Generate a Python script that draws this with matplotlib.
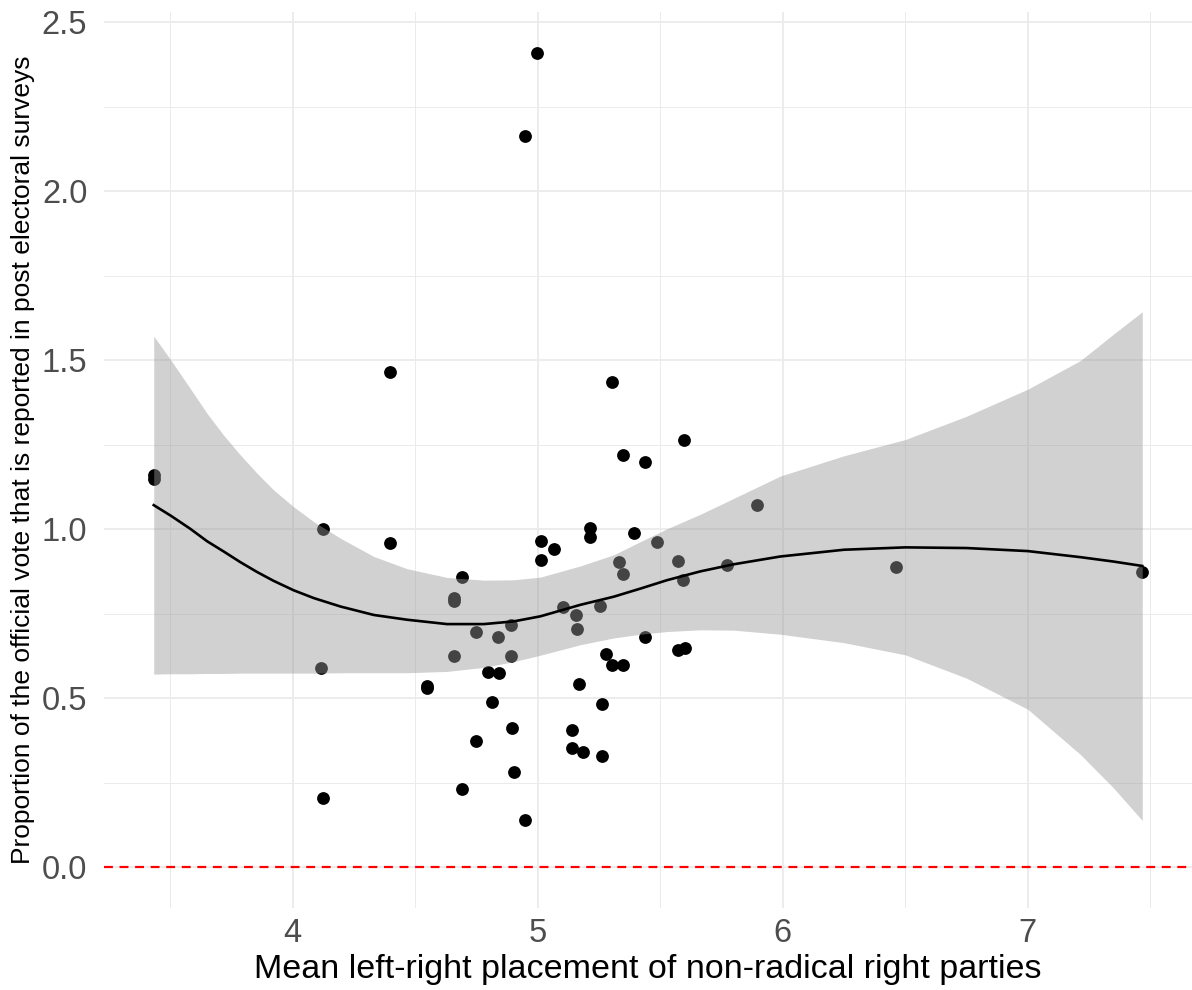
import matplotlib.pyplot as plt
from matplotlib.ticker import MultipleLocator

# mean left-right placement of non-radical right parties
placement = [3.433, 3.433, 4.122, 4.116, 4.122, 4.396, 4.396, 4.549, 4.549, 4.657,
             4.657, 4.660, 4.690, 4.690, 4.750, 4.750, 4.797, 4.815, 4.836, 4.841,
             4.891, 4.891, 4.897, 4.904, 4.950, 4.950, 4.998, 5.015, 5.015, 5.065,
             5.102, 5.140, 5.140, 5.155, 5.161, 5.167, 5.185, 5.215, 5.215, 5.255,
             5.261, 5.261, 5.279, 5.302, 5.305, 5.331, 5.346, 5.348, 5.350, 5.393,
             5.436, 5.436, 5.487, 5.574, 5.574, 5.593, 5.598, 5.600, 5.773, 5.893,
             6.464, 7.467]
# proportion of the official vote reported in surveys
reported = [1.160, 1.150, 1.002, 0.589, 0.204, 1.467, 0.961, 0.538, 0.532, 0.798,
            0.788, 0.625, 0.859, 0.231, 0.697, 0.373, 0.579, 0.490, 0.681, 0.576,
            0.717, 0.626, 0.412, 0.281, 0.139, 2.163, 2.411, 0.967, 0.910, 0.943,
            0.772, 0.408, 0.353, 0.748, 0.706, 0.544, 0.343, 1.005, 0.978, 0.773,
            0.483, 0.329, 0.632, 0.599, 1.436, 0.905, 0.867, 0.600, 1.219, 0.989,
            1.199, 0.681, 0.964, 0.908, 0.642, 0.850, 1.266, 0.649, 0.895, 1.072,
            0.890, 0.874]

# loess fit and its confidence band
fit_x = [3.433, 3.504, 3.582, 3.651, 3.718, 3.787, 3.855, 3.922, 4.004, 4.086,
         4.195, 4.331, 4.466, 4.630, 4.780, 4.902, 5.011, 5.174, 5.310, 5.419,
         5.528, 5.664, 5.800, 5.990, 6.250, 6.500, 6.750, 7.000, 7.215, 7.350, 7.467]
fit_y = [1.072, 1.040, 1.002, 0.965, 0.935, 0.903, 0.874, 0.848, 0.820, 0.797,
         0.772, 0.747, 0.733, 0.720, 0.720, 0.728, 0.743, 0.777, 0.801, 0.825,
         0.850, 0.876, 0.897, 0.920, 0.940, 0.947, 0.945, 0.936, 0.918, 0.905, 0.892]
fit_lo = [0.572, 0.573, 0.573, 0.574, 0.574, 0.575, 0.575, 0.575, 0.575, 0.575,
          0.576, 0.576, 0.576, 0.580, 0.592, 0.609, 0.628, 0.659, 0.679, 0.690,
          0.698, 0.703, 0.702, 0.690, 0.665, 0.629, 0.560, 0.468, 0.334, 0.235, 0.139]
fit_hi = [1.572, 1.500, 1.417, 1.343, 1.279, 1.220, 1.166, 1.117, 1.067, 1.023,
          0.974, 0.920, 0.884, 0.858, 0.850, 0.851, 0.859, 0.892, 0.925, 0.964,
          1.002, 1.045, 1.092, 1.158, 1.218, 1.266, 1.335, 1.415, 1.500, 1.578, 1.644]

plt.rcParams['font.family'] = ['Liberation Sans', 'DejaVu Sans']

fig = plt.figure(figsize=(11.92, 9.9), dpi=100)
ax = fig.add_axes([104 / 1192, 82 / 990, 1088 / 1192, 896 / 990])

ax.scatter(placement, reported, s=85, color='black', linewidths=0, zorder=2)
ax.fill_between(fit_x, fit_lo, fit_hi, color='#999999', alpha=0.45, linewidth=0, zorder=3)
ax.plot(fit_x, fit_y, color='black', linewidth=1.9, zorder=4)
ax.axhline(0, color='red', linestyle=(0, (4, 3)), linewidth=1.6, zorder=5)

ax.set_xlim(3.23, 7.67)
ax.set_ylim(-0.12, 2.531)
ax.xaxis.set_major_locator(MultipleLocator(1))
ax.xaxis.set_minor_locator(MultipleLocator(0.5))
ax.yaxis.set_major_locator(MultipleLocator(0.5))
ax.yaxis.set_minor_locator(MultipleLocator(0.25))
ax.set_yticks([0, 0.5, 1.0, 1.5, 2.0, 2.5])
ax.set_yticklabels(['0.0', '0.5', '1.0', '1.5', '2.0', '2.5'])

ax.grid(which='major', color='#EBEBEB', linewidth=1.3, zorder=0)
ax.grid(which='minor', color='#EBEBEB', linewidth=0.7, zorder=0)
ax.set_axisbelow(True)
for s in ax.spines.values():
    s.set_visible(False)
ax.tick_params(which='both', length=0, labelsize=23.5, labelcolor='#4D4D4D')
ax.tick_params(axis='x', pad=7)
ax.tick_params(axis='y', pad=12)

ax.set_xlabel('Mean left-right placement of non-radical right parties', fontsize=24.5, labelpad=4)
ax.set_ylabel('Proportion of the official vote that is reported in post electoral surveys',
              fontsize=19, labelpad=5)

plt.savefig('out.png', dpi=100)
